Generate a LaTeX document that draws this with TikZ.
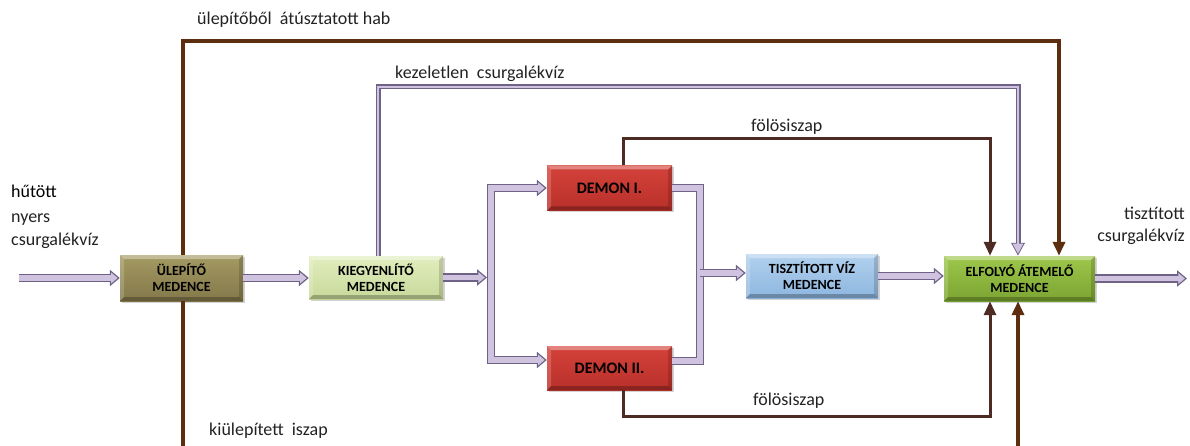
\documentclass[tikz,border=0pt]{standalone}
\usepackage{fontspec}
\setmainfont{Carlito}
\usetikzlibrary{arrows.meta,shadows,calc}
\definecolor{plav}{HTML}{CFC3E0}
\definecolor{pout}{HTML}{6F6287}
\definecolor{brn}{HTML}{5C2D0E}
\definecolor{brnb}{HTML}{4E2B22}
\definecolor{txt}{HTML}{222222}
\definecolor{uT}{HTML}{A49A62}\definecolor{uB}{HTML}{83784A}
\definecolor{kT}{HTML}{E2EDBE}\definecolor{kB}{HTML}{C8D99A}
\definecolor{dT}{HTML}{D4423A}\definecolor{dB}{HTML}{B8302A}
\definecolor{tT}{HTML}{B2D1EE}\definecolor{tB}{HTML}{8DB6DF}
\definecolor{eT}{HTML}{9EC74C}\definecolor{eB}{HTML}{7BA432}
\newcommand\mybevel{%
 \fill[white,opacity=.35] (path picture bounding box.north west) -- (path picture bounding box.north east) -- ([shift={(-4pt,-4pt)}]path picture bounding box.north east) -- ([shift={(4pt,-4pt)}]path picture bounding box.north west) -- cycle;
 \fill[white,opacity=.18] (path picture bounding box.north west) -- ([shift={(4pt,-4pt)}]path picture bounding box.north west) -- ([shift={(4pt,4pt)}]path picture bounding box.south west) -- (path picture bounding box.south west) -- cycle;
 \fill[black,opacity=.15] (path picture bounding box.north east) -- ([shift={(-4pt,-4pt)}]path picture bounding box.north east) -- ([shift={(-4pt,4pt)}]path picture bounding box.south east) -- (path picture bounding box.south east) -- cycle;
 \fill[black,opacity=.25] (path picture bounding box.south west) -- (path picture bounding box.south east) -- ([shift={(-4pt,4pt)}]path picture bounding box.south east) -- ([shift={(4pt,4pt)}]path picture bounding box.south west) -- cycle;
}
\tikzset{
 box/.style={inner sep=0pt, align=center, text=black,
   font=\bfseries\fontsize{14}{16}\selectfont,
   drop shadow={opacity=0.35,shadow xshift=1.5pt,shadow yshift=-2pt},
   path picture={\mybevel}},
 bigbox/.style={box, font=\bfseries\fontsize{16}{18}\selectfont},
 pipe/.style={draw=plav, line width=5.5pt, shorten >=2.1pt,
   -{Triangle[length=6.6pt,width=10.6pt]},
   preaction={draw=pout, line width=8.5pt, shorten >=0pt, -{Triangle[length=10pt,width=16pt]}}},
 pipeline/.style={draw=plav, line width=5.5pt,
   preaction={draw=pout, line width=8.5pt}},
 thinpipe/.style={draw=plav, line width=2.6pt, shorten >=2pt,
   -{Triangle[length=10.1pt,width=10.1pt]},
   preaction={draw=pout, line width=5pt, shorten >=0pt, -{Triangle[length=13pt,width=13pt]}}},
 brnline/.style={draw=brn, line width=4.5pt, -{Triangle[length=14pt,width=12pt]}},
 brnthin/.style={draw=brnb, line width=3pt, -{Triangle[length=14pt,width=12pt]}},
 lbl/.style={inner sep=0pt, anchor=base west, text=txt, font=\fontsize{18}{20}\selectfont},
 lblr/.style={lbl, anchor=base east},
}
\begin{document}
\begin{tikzpicture}[x=1pt,y=-1pt]
\useasboundingbox (0,0) rectangle (1190,446);
% boxes
\node[box, minimum width=123pt, minimum height=46pt, top color=uT, bottom color=uB] (U) at (181.5,278) {ÜLEPÍTŐ\\MEDENCE};
\node[box, minimum width=134pt, minimum height=43pt, top color=kT, bottom color=kB] (K) at (376,277.5) {KIEGYENLÍTŐ\\MEDENCE};
\node[bigbox, minimum width=125pt, minimum height=45pt, top color=dT, bottom color=dB] (D1) at (609.5,188) {DEMON I.};
\node[bigbox, minimum width=125pt, minimum height=44pt, top color=dT, bottom color=dB] (D2) at (609.5,368) {DEMON II.};
\node[box, minimum width=132pt, minimum height=44pt, top color=tT, bottom color=tB] (TV) at (812,276) {TISZTÍTOTT VÍZ\\MEDENCE};
\node[box, minimum width=151pt, minimum height=45pt, top color=eT, bottom color=eB] (E) at (1019.5,278.5) {ELFOLYÓ ÁTEMELŐ\\MEDENCE};

% free ends and bends
\coordinate (in) at (19,278);
\coordinate (out) at (1187,277);
\coordinate (fm) at (491,277.5);
\coordinate (jm) at (700,273);
\coordinate (kz) at (1018,87);
\coordinate (hb) at (1059,41);
\coordinate (ib) at (183,447);
\coordinate (ie) at (1018,447);
\coordinate (ft1) at (990,139);
\coordinate (fb1) at (990,416);

% brown lines
\draw[brnline] ([xshift=1.5pt]U.north) |- (hb) -- (E.north -| hb);
\draw[brnline, -] ([xshift=1.5pt]U.south) -- (ib);
\draw[brnline] (ie) -- (E.south -| ie);
\draw[brnthin] ([xshift=13.5pt]D1.north) |- (ft1) -- (E.north -| ft1);
\draw[brnthin] ([xshift=13.5pt]D2.south) |- (fb1) -- (E.south -| fb1);
% lavender
\draw[thinpipe] ([xshift=2pt]K.north) |- (kz) -- (E.north -| kz);
\draw[pipe] (in) -- (U.west |- in);
\draw[pipe] (U.east) -- (K.west |- U.east);
\draw[pipe] (fm) |- (D1.west);
\draw[pipe] (fm) |- ([yshift=8pt]D2.west);
\draw[pipe] (K.east) -- ([xshift=-4pt]fm |- K.east);
\draw[pipeline] (D1.east) -| (jm);
\draw[pipeline] ([yshift=7pt]D2.east) -| (jm);
\draw[pipe] (jm) -- (TV.west |- jm);
\draw[pipe] (TV.east) -- (E.west |- TV.east);
\draw[pipe] (E.east) -- (out |- E.east);

% labels
\node[lbl] (l1) at (197,25) {ülepítőből\ \ átúsztatott hab};
\node[lbl] (l2) at (395,79) {kezeletlen\ \ csurgalékvíz};
\node[lbl] (l3) at (751,132) {fölösiszap};
\node[lbl] (l4) at (753,405) {fölösiszap};
\node[lbl, text=black] (l5) at (11,198) {hűtött};
\node[lbl] (l6) at (11,223) {nyers};
\node[lbl] (l7) at (11,245) {csurgalékvíz};
\node[lblr] (l8) at (1185,220) {tisztított};
\node[lblr] (l9) at (1185,241) {csurgalékvíz};
\node[lbl] (l10) at (209,435) {kiülepített\ \ iszap};
\end{tikzpicture}
\end{document}
